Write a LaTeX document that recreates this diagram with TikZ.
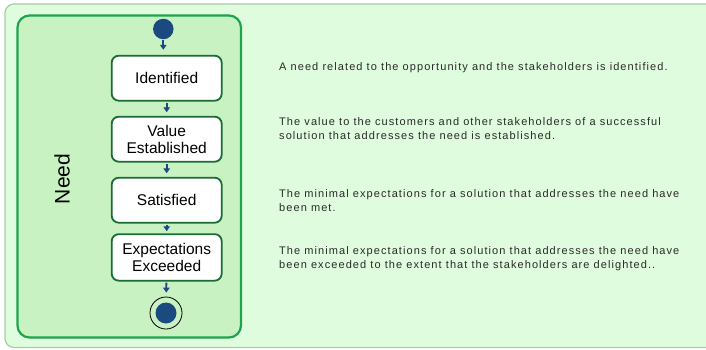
\documentclass[tikz,border=0pt]{standalone}
\usepackage{fontspec}
\setmainfont{Liberation Sans}
\newfontfamily\descfont[LetterSpace=9.8]{Liberation Sans}
\usetikzlibrary{arrows.meta}
\definecolor{outerfill}{HTML}{E0FCDE}
\definecolor{outerdraw}{HTML}{A8CCA8}
\definecolor{lanefill}{HTML}{C8F2C2}
\definecolor{lanedraw}{HTML}{1EA34E}
\definecolor{boxdraw}{HTML}{1B6B35}
\definecolor{navy}{HTML}{1C4A80}
\definecolor{desc}{HTML}{2A2A2A}
\begin{document}
\begin{tikzpicture}[x=1pt,y=-1pt,
  statebox/.style={draw=boxdraw, line width=1.8pt, fill=white, rounded corners=7pt,
    minimum width=110pt, minimum height=45pt, align=center, inner sep=0pt,
    font=\fontsize{15.5}{17}\selectfont},
  flow/.style={draw=navy, line width=1.8pt, -{Triangle[width=6.5pt,length=5pt]}},
  desctext/.style={anchor=base west, align=left, inner sep=0pt, text=desc,
    font=\descfont\fontsize{11}{13.6}\selectfont}]
\useasboundingbox (0,0) rectangle (706,350);
\clip (0,0) rectangle (706,350);
% outer panel
\draw[draw=outerdraw, fill=outerfill, line width=1.2pt, rounded corners=9pt] (5,4) rectangle (730,347.5);
% swimlane
\draw[draw=lanedraw, fill=lanefill, line width=2.2pt, rounded corners=12pt] (17.5,15.5) rectangle (241,337.5);
\node[rotate=90, font=\fontsize{21}{21}\selectfont] (lane) at (62,179) {Need};
% states
\node[circle, fill=navy, inner sep=0pt, minimum size=20.5pt] (init) at (163.3,29) {};
\node[statebox] (s1) at (166.7,78.2) {Identified};
\node[statebox] (s2) at (166.7,139.2) {Value\\Established};
\node[statebox] (s3) at (166.7,200.2) {Satisfied};
\node[statebox, minimum height=46.5pt] (s4) at (166.7,257.4) {Expectations\\Exceeded};
\node[circle, draw=black, line width=0.8pt, inner sep=0pt, minimum size=32pt] (fin) at (166,313) {};
\node[circle, fill=navy, inner sep=0pt, minimum size=21pt] (fincore) at (fin) {};
% connectors
\draw[flow, shorten <=0.5pt, shorten >=5pt] (init) -- (init |- s1.north);
\draw[flow, shorten <=1pt, shorten >=3.5pt] (s1) -- (s2);
\draw[flow, shorten <=1pt, shorten >=3.5pt] (s2) -- (s3);
\draw[flow, shorten <=1pt, shorten >=2pt] (s3) -- (s4);
\draw[flow, shorten <=1pt, shorten >=4pt] (s4) -- (fin);
% descriptions (base anchor = baseline of last line)
\node[desctext] (d1) at (279,70.7) {A need related to the opportunity and the stakeholders is identified.};
\node[desctext] (d2) at (279,139.5) {The value to the customers and other stakeholders of a successful\\solution that addresses the need is established.};
\node[desctext] (d3) at (279,211) {The minimal expectations for a solution that addresses the need have\\been met.};
\node[desctext] (d4) at (279,268) {The minimal expectations for a solution that addresses the need have\\been exceeded to the extent that the stakeholders are delighted..};
\end{tikzpicture}
\end{document}
